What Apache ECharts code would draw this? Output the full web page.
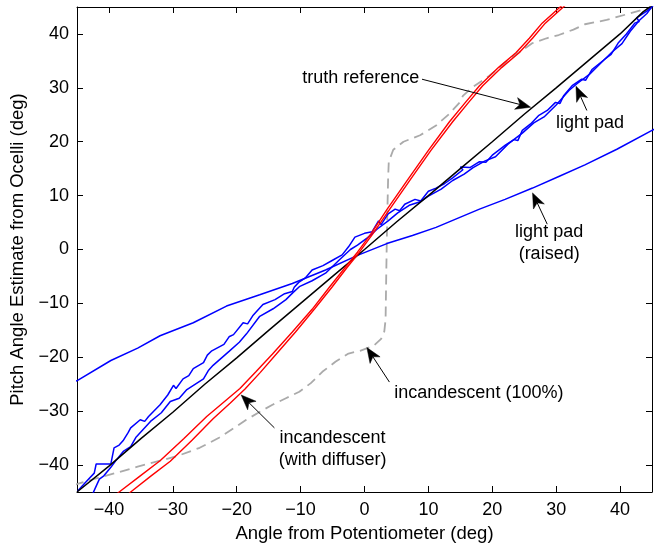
<!DOCTYPE html>
<html><head><meta charset="utf-8">
<script src="https://cdn.jsdelivr.net/npm/echarts@6/dist/echarts.min.js"></script>
<style>html,body{margin:0;padding:0;background:#fff}#c{width:657px;height:548px}</style>
</head><body><div id="c"></div>
<script>
// ---- data (degrees) ----
const xTicks = [-40, -30, -20, -10, 0, 10, 20, 30, 40];
const yTicks = [-40, -30, -20, -10, 0, 10, 20, 30, 40];
const xTitle = 'Angle from Potentiometer (deg)';
const yTitle = 'Pitch Angle Estimate from Ocelli (deg)';

const truthReference = [[-45,-45],[-40,-40.2],[-35,-35.1],[-30,-30.2],[-25,-25],[-20,-20.1],[-15,-15],[-10,-10],[-5,-5],[0,0],[5,5.1],[10,10],[15,15],[20,20],[25,25.1],[30,30],[35,35],[40,40],[43.6,44.1],[45,45.3]];

const lightPadA = [[-44.9,-44.8],[-43.5,-43.0],[-42.3,-41.5],[-42.0,-39.8],[-39.7,-39.8],[-39.2,-36.8],[-38.4,-36.3],[-37.8,-35.5],[-37.0,-34.0],[-36.6,-33.1],[-35.1,-31.6],[-34.4,-31.9],[-33.8,-31.0],[-32.0,-28.8],[-30.8,-27.0],[-29.9,-25.2],[-29.5,-25.8],[-28.4,-24.0],[-27.5,-23.4],[-26.8,-22.1],[-25.2,-21.0],[-24.6,-19.6],[-23.9,-18.8],[-22.0,-17.6],[-21.2,-16.2],[-20.5,-15.8],[-19.0,-13.6],[-18.3,-13.8],[-17.5,-12.3],[-15.9,-10.2],[-14.0,-9.3],[-12.5,-8.2],[-11.3,-7.8],[-11.0,-7.0],[-10.3,-6.1],[-9.2,-5.2],[-8.2,-3.8],[-6.5,-3.0],[-5.0,-2.0],[-3.5,-1.0],[-2.5,0.5],[-1.5,2.3],[0,3.0],[1.2,3.3],[2.2,5.3],[2.6,4.6],[3.7,6.6],[4.8,7.5],[5.5,7.2],[6.3,8.4],[7.9,9.3],[8.8,9.0],[10,10.8],[11.2,11.4],[12.5,12.2],[13.8,13.3],[15.4,14.8],[15.0,15.3],[16.5,15.2],[18,16.3],[19.0,16.2],[20,17.5],[22.1,19.4],[23.4,20.4],[24.0,20.2],[24.7,22.1],[26,23.3],[27.3,24.9],[28.6,25.8],[29.9,27.3],[30.6,27.1],[31.2,28.6],[32.5,30.4],[34,31.6],[34.6,31.4],[35.6,33.4],[37.6,35.3],[38.6,36.2],[39.7,38.3],[41,40.0],[42.3,42],[43.0,42.3],[42.6,43.0],[44.4,44.4],[45.2,45.3]];

const lightPadB = [[-42.6,-45.5],[-42.3,-44.7],[-41.5,-42.6],[-40.8,-42.0],[-39.7,-40.4],[-38.8,-39.0],[-37.7,-37.4],[-36.6,-36.6],[-35.8,-34.9],[-33.5,-31.9],[-31.8,-30.3],[-30.4,-28.2],[-29.0,-27.6],[-27.8,-26.0],[-25.2,-24.0],[-24.4,-22.4],[-23.7,-21.5],[-21.2,-18.9],[-19.6,-17.2],[-18.5,-15.7],[-16.4,-12.4],[-14.3,-11.0],[-12.3,-9.3],[-11.2,-8.0],[-10.2,-6.9],[-8.2,-5.8],[-6.1,-4.4],[-4.0,-2.0],[-2.2,0.0],[-1.1,0.8],[0.5,2.2],[2.0,3.8],[3.7,5.3],[5.2,6.8],[7.0,8.2],[8.6,8.8],[10,9.9],[12,11.2],[13.8,12.8],[15.6,14.0],[17,15.2],[18.8,16.4],[20.5,17.2],[22.5,19.6],[24.7,21.6],[26.5,23.5],[28.1,24.6],[30.0,26.8],[32.0,29.5],[33.3,30.8],[35.2,32.5],[37.0,34.6],[38.8,36.7],[40.3,38.2],[41.6,40.5],[43.0,42.5],[44.2,43.8],[45.3,45.6]];

const lightPadRaised = [[-45.5,-24.5],[-44.9,-24.3],[-39.7,-20.6],[-35.5,-18.3],[-32,-16],[-26.8,-13.6],[-21.6,-10.5],[-16.4,-8.4],[-11.3,-6.3],[-6.1,-3.8],[-1.1,-1.1],[3.5,1.1],[7.5,2.6],[11.2,4.1],[18,7.5],[22,9.3],[26.3,11.4],[30.5,13.6],[34.5,15.7],[39.5,18.6],[45,22.1],[45.5,22.4]];

const incandescent100 = [[-45.5,-43.7],[-44.9,-43.5],[-41.5,-42.3],[-38.7,-41.4],[-35.5,-40.3],[-32,-39.2],[-29,-38.2],[-25.8,-36.8],[-22.7,-34.9],[-20.5,-33.2],[-18.5,-31.6],[-16.5,-30.2],[-14.4,-28.8],[-12.3,-27.6],[-10.2,-26.4],[-8.4,-24.8],[-6.6,-22.7],[-4.5,-20.8],[-2.5,-19.3],[-0.7,-18.8],[1.4,-17.9],[2.6,-16.6],[3.1,-15.2],[3.3,-13],[3.4,-5],[3.5,2.3],[3.6,8],[3.7,13.3],[3.8,16.3],[4.5,18.5],[6.1,20],[8.7,21.2],[11.2,23],[13.3,25.2],[14.9,27.3],[15.4,28.5],[16.9,30.1],[19.5,32.2],[22.6,35.3],[26.3,38.3],[28.5,39.2],[30.4,39.8],[32.7,40.8],[34.5,41.8],[37.9,42.6],[39.7,43.2],[43.3,44.4],[45,44.8]];

const diffuserA = [[-40,-46.5],[-38.4,-45],[-35.2,-42.1],[-32,-39.2],[-28.3,-35.1],[-24.7,-31],[-22,-28.3],[-19.5,-25.8],[-17,-22.7],[-14.4,-19.4],[-11.3,-15.3],[-8.2,-11.1],[-5.5,-7.0],[-3,-3.3],[-1.1,-0.5],[1,2.9],[3.5,7.4],[6.8,13],[10,18.4],[13.3,23.7],[15.8,27.3],[18,30.4],[21,33.8],[23.7,36.5],[25.8,39.2],[27.8,42],[30.9,45.3],[32,46.5]];

const diffuserB = [[-38,-46.5],[-36.6,-45],[-33.4,-42.0],[-30.4,-39.3],[-27,-35.4],[-23.7,-31.4],[-21.0,-28.5],[-18.7,-25.9],[-16.3,-22.8],[-13.8,-19.4],[-10.8,-15.3],[-7.8,-11.0],[-5.1,-7.0],[-2.7,-3.3],[-0.8,-0.5],[1.3,2.9],[3.9,7.4],[7.2,13],[10.4,18.4],[13.8,23.7],[16.3,27.3],[18.5,30.4],[21.5,33.8],[24.2,36.5],[26.3,39.2],[28.3,42],[31.4,45.3],[32.5,46.5]];

// annotation texts (anchored in data coordinates)
const notes = [
  {text: 'truth reference', at: [-0.6, 31.8], from: [9.0, 31.6], tip: [26.0, 26.4]},
  {text: 'light pad', at: [35.3, 23.4], from: [34.8, 25.8], tip: [33.1, 30.3]},
  {text: 'light pad\n(raised)', at: [28.9, 1.2], from: [28.6, 4.7], tip: [26.3, 10.5]},
  {text: 'incandescent (100%)', at: [17.9, -26.6], from: [3.9, -24.6], tip: [0.37, -18.2]},
  {text: 'incandescent\n(with diffuser)', at: [-5.0, -37.1], from: [-14.1, -33.1], tip: [-19.3, -27.0]}
];

// ---- chart ----
const FONT = '"Liberation Sans", Arial, Helvetica, sans-serif';
const fmt = v => (v < 0 ? '\u2212' + Math.abs(v) : String(v));
const chart = echarts.init(document.getElementById('c'), null, {renderer: 'canvas'});

function axisBase(pos, ticks, show) {
  return {
    type: 'value', min: -45, max: 45, position: pos,
    axisLine: {show: true, onZero: false, lineStyle: {color: '#000', width: 1}},
    axisTick: {show: true, inside: true, length: 6, customValues: ticks, lineStyle: {color: '#000', width: 1}},
    axisLabel: {show: show, customValues: ticks, formatter: fmt, color: '#000', fontSize: 18, fontFamily: FONT},
    splitLine: {show: false}
  };
}

const xa0 = axisBase('bottom', xTicks, true);
xa0.axisLabel.margin = 9;
xa0.name = xTitle; xa0.nameLocation = 'middle'; xa0.nameGap = 32;
xa0.nameTextStyle = {color: '#000', fontSize: 18.5, fontFamily: FONT};
const ya0 = axisBase('left', yTicks, true);
ya0.axisLabel.margin = 8;
ya0.name = yTitle; ya0.nameLocation = 'middle'; ya0.nameGap = 44;
ya0.nameTextStyle = {color: '#000', fontSize: 18.5, fontFamily: FONT};

function line(data, color, width, dash, z) {
  return {type: 'line', data: data, showSymbol: false, symbol: 'none', smooth: false, z: z,
    lineStyle: {color: color, width: width, type: dash || 'solid'}, xAxisIndex: 0, yAxisIndex: 0};
}

chart.setOption({
  animation: false,
  backgroundColor: '#fff',
  grid: {left: 77, right: 5, top: 7, bottom: 51, containLabel: false},
  xAxis: [xa0, axisBase('top', xTicks, false)],
  yAxis: [ya0, axisBase('right', yTicks, false)],
  series: [
    line(incandescent100, '#aaaaaa', 1.8, [10, 6], 2),
    line(lightPadRaised, '#0000ff', 1.5, null, 3),
    line(lightPadA, '#0000ff', 1.5, null, 3),
    line(lightPadB, '#0000ff', 1.5, null, 3),
    line(truthReference, '#000000', 1.5, null, 4),
    line(diffuserA, '#ff0000', 1.4, null, 5),
    line(diffuserB, '#ff0000', 1.4, null, 5)
  ]
});

// annotations with arrows
const g = [];
const HL = 15, HW = 6, NOTCH = 4;
notes.forEach(n => {
  const p = chart.convertToPixel({gridIndex: 0}, n.at);
  const a = chart.convertToPixel({gridIndex: 0}, n.from);
  const t = chart.convertToPixel({gridIndex: 0}, n.tip);
  const dx = t[0] - a[0], dy = t[1] - a[1];
  const len = Math.hypot(dx, dy);
  const ux = dx / len, uy = dy / len, nx = -uy, ny = ux;
  const bx = t[0] - HL * ux, by = t[1] - HL * uy;
  g.push({type: 'text', x: p[0], y: p[1], z: 50,
    style: {text: n.text, fill: '#000', fontSize: 18, fontFamily: FONT, align: 'center', verticalAlign: 'middle', lineHeight: 22}});
  g.push({type: 'line', z: 50, shape: {x1: a[0], y1: a[1], x2: bx + NOTCH * ux, y2: by + NOTCH * uy},
    style: {stroke: '#000', lineWidth: 1}});
  g.push({type: 'polygon', z: 51, shape: {points: [
      [t[0], t[1]], [bx + HW * nx, by + HW * ny], [bx + NOTCH * ux, by + NOTCH * uy], [bx - HW * nx, by - HW * ny]]},
    style: {fill: '#000', stroke: '#000', lineWidth: 0.5}});
});
chart.setOption({graphic: g});
</script>
</body></html>
